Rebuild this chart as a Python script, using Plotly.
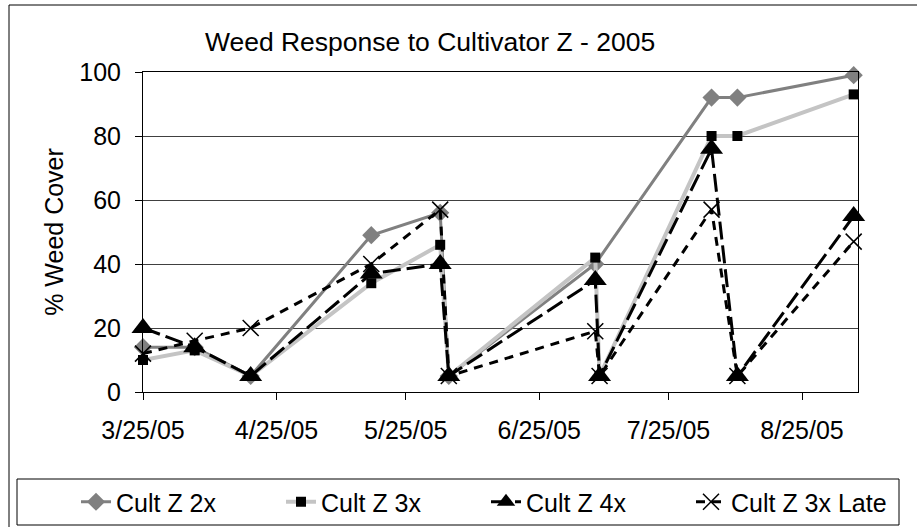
import plotly.graph_objects as go

# ---- data ----
dates = ["2005-03-25", "2005-04-06", "2005-04-19", "2005-05-17", "2005-06-02",
         "2005-06-04", "2005-07-08", "2005-07-09", "2005-08-04", "2005-08-10",
         "2005-09-06"]
cult_2x = [14, 14, 5, 49, 56, 5, 40, None, 92, 92, 99]
cult_3x = [10, 13, 5, 34, 46, 5, 42, 5, 80, 80, 93]
cult_4x = [20, 14, 5, 37, 40, 5, 35, 5, 76, 5, 55]
cult_3x_late = [12, 16, 20, 40, 57, 5, 19, 5, 57, 5, 47]

tick_dates = ["2005-03-25", "2005-04-25", "2005-05-25", "2005-06-25",
              "2005-07-25", "2005-08-25"]
tick_labels = ["3/25/05", "4/25/05", "5/25/05", "6/25/05", "7/25/05", "8/25/05"]
x_range = ["2005-03-25", "2005-09-07"]

# ---- geometry (pixels) ----
W, H = 917, 527
L, R, T, B = 143, 858, 72, 392


def px(x):
    return (x - L) / (R - L)


def py(y):
    return (B - y) / (B - T)


FONT = "Liberation Sans, Arial, sans-serif"

fig = go.Figure()
fig.add_trace(go.Scatter(
    x=dates, y=cult_2x, name="Cult Z 2x", mode="lines+markers", connectgaps=True,
    line=dict(color="#808080", width=3),
    marker=dict(symbol="diamond", size=14, color="#808080"),
    cliponaxis=False))
fig.add_trace(go.Scatter(
    x=dates, y=cult_3x, name="Cult Z 3x", mode="lines+markers",
    line=dict(color="#c4c4c4", width=4),
    marker=dict(symbol="square", size=10, color="black"),
    cliponaxis=False))
fig.add_trace(go.Scatter(
    x=dates, y=cult_4x, name="Cult Z 4x", mode="lines+markers",
    line=dict(color="black", width=3, dash="18px,6px"),
    marker=dict(symbol="triangle-up", size=20, color="black"),
    cliponaxis=False))
fig.add_trace(go.Scatter(
    x=dates, y=cult_3x_late, name="Cult Z 3x Late", mode="lines+markers",
    line=dict(color="black", width=3, dash="9px,7px"),
    marker=dict(symbol="x-thin-open", size=16, color="black",
                line=dict(color="black", width=1.5)),
    cliponaxis=False))

fig.update_layout(
    width=W, height=H,
    margin=dict(l=L, r=W - R, t=T, b=H - B, pad=0, autoexpand=False),
    paper_bgcolor="white", plot_bgcolor="white",
    font=dict(family=FONT, color="black", size=25),
    title=dict(text="Weed Response to Cultivator Z - 2005",
               font=dict(size=26.5, family=FONT, color="black"),
               x=430 / W, xref="container", xanchor="center",
               y=1 - 42 / H, yref="container", yanchor="middle"),
    xaxis=dict(type="date", range=x_range, tickvals=tick_dates, ticktext=tick_labels,
               showgrid=False, showline=True, linecolor="black", linewidth=1,
               mirror=True, ticks="outside", ticklen=7, tickcolor="black",
               tickfont=dict(size=25), ticklabelstandoff=9, zeroline=False,
               automargin=False),
    yaxis=dict(range=[0, 100], dtick=20, tick0=0,
               showgrid=True, gridcolor="#404040", gridwidth=1,
               showline=True, linecolor="black", linewidth=1, mirror=True,
               ticks="outside", ticklen=7, tickcolor="black",
               tickfont=dict(size=25), ticklabelstandoff=9, zeroline=False,
               automargin=False,
               title=dict(text="% Weed Cover", font=dict(size=25), standoff=8)),
    showlegend=True,
    legend=dict(orientation="h", x=px(76), y=py(502), xanchor="left", yanchor="middle",
                bgcolor="rgba(0,0,0,0)", borderwidth=0,
                font=dict(size=25, family=FONT), entrywidth=160, entrywidthmode="pixels",
                itemsizing="trace"),
    shapes=[
        dict(type="rect", xref="paper", yref="paper",
             x0=px(9), x1=px(940), y0=py(560), y1=py(5),
             line=dict(color="black", width=1), fillcolor="rgba(0,0,0,0)", layer="below"),
        dict(type="rect", xref="paper", yref="paper",
             x0=px(17), x1=px(899), y0=py(525), y1=py(479),
             line=dict(color="black", width=1), fillcolor="rgba(0,0,0,0)", layer="below"),
    ],
)

fig.write_html("out.html", config={"displayModeBar": False},
               post_script="document.body.style.margin='0px';")
